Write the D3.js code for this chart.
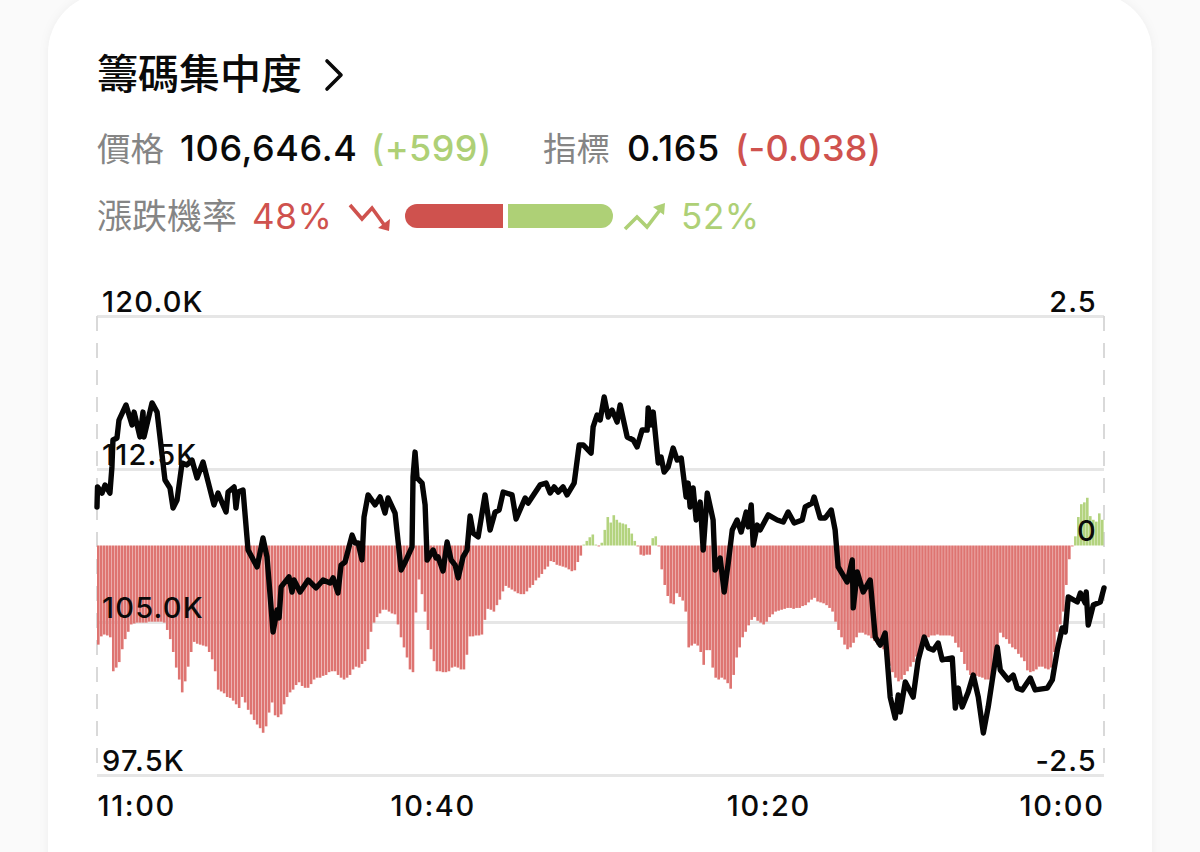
<!DOCTYPE html>
<html>
<head>
<meta charset="utf-8">
<style>
  html, body { margin: 0; padding: 0; background: #fafafa; }
  svg { display: block; }
  text { font-family: "Inter", "Noto Sans CJK TC", sans-serif; }
  .cjk { font-family: "Noto Sans CJK TC", sans-serif; }
</style>
<script src="https://cdn.jsdelivr.net/npm/d3@7"></script>
</head>
<body>
<svg width="1200" height="852"></svg>
<script>
// minutes counted from the left edge (11:00) toward 10:00, price in thousands
const pricePoints = [
  [0,110.64],[0.03,111.62],[0.30,111.32],[0.48,111.72],[0.77,111.32],[0.89,112.60],[0.95,113.92],[1.19,114.02],
  [1.31,114.90],[1.73,115.64],[2.09,114.66],[2.21,115.29],[2.56,114.07],[2.74,115.29],[2.80,114.07],[3.28,115.74],
  [3.58,115.29],[4.05,111.96],[4.35,111.57],[4.53,110.59],[4.77,110.98],[5.07,112.79],[5.36,112.70],[5.66,112.94],
  [5.96,112.06],[6.32,112.84],[6.97,110.74],[7.21,111.32],[7.69,110.39],[7.81,111.37],[8.17,111.62],[8.28,110.59],
  [8.40,111.37],[8.70,111.47],[9.00,108.53],[9.54,107.70],[9.89,109.12],[10.13,108.19],[10.49,104.51],[10.73,105.59],
  [10.85,105.20],[10.97,106.72],[11.44,107.21],[11.62,106.47],[11.74,107.06],[12.10,106.47],[12.58,107.06],[13.05,106.67],
  [13.47,107.06],[13.89,106.91],[14.07,107.16],[14.36,106.42],[14.54,107.79],[14.78,107.94],[15.20,109.26],[15.38,108.87],
  [15.56,108.87],[15.79,108.04],[15.91,110.15],[16.15,111.23],[16.57,110.74],[16.87,111.13],[17.16,110.34],[17.34,111.08],
  [17.76,110.34],[18.12,107.55],[18.36,107.94],[18.77,108.68],[18.83,112.11],[18.95,113.33],[19.07,112.06],[19.37,111.81],
  [19.55,110.74],[19.67,108.04],[20.03,108.53],[20.20,108.14],[20.32,108.19],[20.62,107.50],[20.86,108.92],[21.10,108.04],
  [21.34,107.79],[21.52,107.16],[21.81,108.19],[22.05,108.53],[22.23,110.20],[22.41,109.36],[22.71,109.17],[23.12,111.23],
  [23.42,109.51],[23.72,110.39],[23.96,110.49],[24.20,111.37],[24.73,111.23],[24.97,110.05],[25.51,111.08],[25.69,110.83],
  [26.40,111.72],[26.76,111.81],[27.00,111.32],[27.24,111.62],[27.48,111.37],[27.77,111.62],[28.01,111.23],[28.43,111.81],
  [28.55,112.55],[28.73,113.68],[28.97,113.68],[29.44,113.28],[29.56,114.56],[29.80,115.15],[29.98,114.90],[30.22,116.03],
  [30.46,115.05],[30.69,115.39],[30.99,114.80],[31.17,115.64],[31.59,114.07],[31.95,113.92],[32.18,113.58],[32.48,114.41],
  [32.78,114.41],[32.84,115.49],[33.02,114.66],[33.14,115.29],[33.44,112.79],[33.61,113.09],[33.79,112.35],[34.03,112.60],
  [34.33,113.53],[34.57,112.94],[34.81,113.04],[35.10,111.13],[35.22,111.81],[35.34,110.64],[35.52,111.57],[35.70,110.00],
  [35.94,110.88],[36.12,108.53],[36.36,111.32],[36.71,110.00],[36.83,107.55],[37.13,108.14],[37.37,106.47],[37.61,107.89],
  [37.85,109.51],[38.14,110.00],[38.38,109.41],[38.68,110.39],[38.80,109.66],[38.98,110.74],[39.10,108.77],[39.34,109.75],
  [39.51,109.51],[39.99,110.25],[40.53,110.00],[40.89,109.90],[41.18,110.39],[41.54,109.85],[42.02,110.00],[42.20,110.64],
  [42.61,110.83],[42.73,111.13],[43.09,110.10],[43.39,110.10],[43.75,110.49],[43.98,109.51],[44.16,107.70],[44.70,106.96],
  [45.00,108.04],[45.06,105.69],[45.30,107.45],[45.65,106.47],[46.07,107.06],[46.37,104.26],[46.67,103.87],[46.96,104.46],
  [47.26,101.32],[47.56,100.29],[47.74,101.42],[47.86,100.59],[48.16,102.06],[48.63,101.32],[48.93,103.14],[49.29,104.26],
  [49.53,103.73],[49.83,103.63],[50.12,103.97],[50.36,103.14],[50.96,103.24],[51.14,100.78],[51.32,101.76],[51.55,100.83],
  [51.91,101.57],[52.21,102.40],[52.51,101.32],[52.81,99.56],[53.10,100.83],[53.64,103.77],[53.82,102.65],[54.30,102.16],
  [54.59,102.40],[54.83,101.76],[55.13,101.67],[55.61,102.25],[55.90,101.67],[56.62,101.76],[56.92,102.16],[57.22,103.63],
  [57.51,104.71],[57.69,104.51],[57.87,106.23],[58.41,105.98],[58.59,106.42],[58.88,105.93],[58.94,106.47],[59.06,104.85],
  [59.36,105.83],[59.78,105.98],[60,106.67]
];

// indicator bars, one per sample, left to right
const indicator = [
  -1.08,-.99,-.97,-.98,-1.00,-1.37,-1.33,-1.27,-1.13,-1.02,
  -.94,-.86,-.85,-.84,-.84,-.84,-.84,-.83,-.83,-.83,
  -.83,-.83,-.84,-.92,-1.02,-1.16,-1.33,-1.46,-1.60,-1.48,
  -1.32,-1.16,-1.05,-1.07,-1.08,-1.09,-1.10,-1.16,-1.24,-1.37,
  -1.57,-1.59,-1.61,-1.65,-1.66,-1.69,-1.73,-1.77,-1.65,-1.71,
  -1.79,-1.84,-1.90,-1.95,-1.99,-2.04,-1.97,-1.82,-1.71,-1.85,
  -1.87,-1.84,-1.73,-1.65,-1.60,-1.57,-1.52,-1.49,-1.53,-1.55,
  -1.55,-1.51,-1.46,-1.44,-1.44,-1.42,-1.41,-1.38,-1.37,-1.37,
  -1.41,-1.44,-1.46,-1.44,-1.41,-1.35,-1.32,-1.33,-1.29,-1.26,
  -1.13,-.94,-.84,-.78,-.74,-.70,-.70,-.72,-.74,-.75,
  -.86,-1.00,-1.11,-1.22,-1.35,-1.38,-.73,-.37,-.53,-.72,
  -.92,-1.13,-1.26,-1.37,-1.37,-1.38,-1.38,-1.37,-1.33,-1.32,
  -1.33,-1.35,-1.35,-1.19,-.99,-.99,-.98,-.98,-.97,-.81,
  -.69,-.70,-.72,-.65,-.59,-.50,-.44,-.46,-.48,-.50,
  -.52,-.53,-.53,-.50,-.46,-.43,-.38,-.35,-.31,-.26,
  -.23,-.17,-.18,-.21,-.22,-.23,-.24,-.26,-.28,-.27,
  -.18,-.11,.01,.05,.09,.12,.01,-.01,.03,.17,
  .31,.25,.33,.28,.25,.24,.23,.19,.13,.05,
  -.01,-.10,-.11,-.10,-.10,.08,.10,-.01,-.26,-.43,
  -.55,-.63,-.64,-.52,-.56,-.60,-.72,-1.11,-1.09,-1.07,
  -1.09,-1.16,-1.30,-1.14,-1.14,-1.33,-1.44,-1.46,-1.44,-1.46,
  -1.50,-1.56,-1.41,-1.22,-1.11,-1.00,-.94,-.87,-.81,-.78,
  -.82,-.84,-.86,-.83,-.78,-.75,-.72,-.71,-.70,-.69,
  -.68,-.68,-.69,-.68,-.68,-.66,-.65,-.62,-.59,-.57,
  -.61,-.62,-.63,-.65,-.68,-.72,-.83,-.92,-1.00,-1.08,
  -1.13,-1.11,-1.06,-1.00,-.95,-.95,-.97,-.98,-1.01,-1.04,
  -1.08,-1.11,-1.13,-1.22,-1.31,-1.38,-1.44,-1.48,-1.46,-1.41,
  -1.37,-1.32,-1.27,-1.21,-1.16,-1.09,-1.02,-1.00,-.98,-.98,
  -.97,-.98,-.98,-.98,-.98,-.99,-1.06,-1.11,-1.16,-1.29,
  -1.36,-1.41,-1.43,-1.42,-1.43,-1.44,-1.46,-1.46,-1.48,-1.33,
  -1.11,-.95,-1.00,-1.02,-1.07,-1.11,-1.13,-1.18,-1.22,-1.26,
  -1.36,-1.38,-1.37,-1.35,-1.32,-1.32,-1.34,-1.35,-1.33,-1.16,
  -.94,-.86,-.72,-.43,-.15,-.01,.10,.31,.45,.47,
  .52,.32,.28,.26,.35,.28
];

const priceTicks = [120, 112.5, 105, 97.5];
const indicatorTicks = [2.5, 0, -2.5];
const timeTicks = [0, 20, 40, 60];
const timeLabels = ["11:00", "10:40", "10:20", "10:00"];

const red = "#cf524e";
const green = "#aed076";
const gray = "#858585";
const ink = "#0a0a0a";

const dims = { left: 97, right: 1104, top: 316, bottom: 775 };

const svg = d3.select("svg");

// card
svg.append("rect")
  .attr("x", 48).attr("y", -7)
  .attr("width", 1104).attr("height", 960)
  .attr("rx", 60)
  .attr("fill", "#fff")
  .style("filter", "drop-shadow(0 0 5px rgba(0,0,0,0.05))");

// header rows
function label(txt, x, y, size, color, opts) {
  const t = svg.append("text")
    .attr("x", x).attr("y", y)
    .attr("font-size", size)
    .attr("fill", color)
    .text(txt);
  if (opts && opts.cjk) t.attr("class", "cjk");
  if (opts && opts.weight) t.attr("font-weight", opts.weight);
  if (opts && opts.spacing) t.attr("letter-spacing", opts.spacing);
  return t;
}

label("籌碼集中度", 97, 89, 41, ink, { cjk: true, weight: 500 });
svg.append("path")
  .attr("d", d3.line()([[327, 61], [341, 75], [327, 89]]))
  .attr("fill", "none").attr("stroke", ink).attr("stroke-width", 3.6)
  .attr("stroke-linecap", "round").attr("stroke-linejoin", "round");

label("價格", 97, 161, 33.5, gray, { cjk: true });
label("106,646.4", 180, 161, 36, ink, { weight: 500, spacing: 0.6 });
label("(+599)", 371, 161, 36, green, { weight: 500, spacing: 0.4 });
label("指標", 543, 161, 33.5, gray, { cjk: true });
label("0.165", 627, 161, 36, ink, { weight: 500, spacing: 0.6 });
label("(-0.038)", 735, 161, 36, red, { weight: 500, spacing: 0.3 });

label("漲跌機率", 97, 229, 35, gray, { cjk: true });
label("48%", 252, 229, 35, red, { spacing: 0.6 });
label("52%", 681, 229, 35, green, { spacing: 0.6 });

// probability bar, rounded only on the outer ends
const probLeft = d3.path();
probLeft.moveTo(503, 204);
probLeft.lineTo(417, 204);
probLeft.arcTo(405, 204, 405, 216, 12);
probLeft.arcTo(405, 228, 417, 228, 12);
probLeft.lineTo(503, 228);
probLeft.closePath();
svg.append("path").attr("d", probLeft.toString()).attr("fill", red);

const probRight = d3.path();
probRight.moveTo(508, 204);
probRight.lineTo(601, 204);
probRight.arcTo(613, 204, 613, 216, 12);
probRight.arcTo(613, 228, 601, 228, 12);
probRight.lineTo(508, 228);
probRight.closePath();
svg.append("path").attr("d", probRight.toString()).attr("fill", green);

// trend icons
svg.append("path")
  .attr("d", d3.line()([[350, 205], [362, 219], [372, 208], [385, 226]]))
  .attr("fill", "none").attr("stroke", red).attr("stroke-width", 3.6);
svg.append("path")
  .attr("d", d3.line()([[390, 219], [389, 231], [378, 228]]) + "Z")
  .attr("fill", red);
svg.append("path")
  .attr("d", d3.line()([[625, 229], [637, 217], [647, 227], [660, 210]]))
  .attr("fill", "none").attr("stroke", green).attr("stroke-width", 3.6);
svg.append("path")
  .attr("d", d3.line()([[653, 207], [665, 203], [664, 215]]) + "Z")
  .attr("fill", green);

// scales
const x = d3.scaleLinear().domain([0, 60]).range([dims.left, dims.right]);
const yPrice = d3.scaleLinear().domain([97.5, 120]).range([dims.bottom, dims.top]);
const yIndicator = d3.scaleLinear().domain([-2.5, 2.5]).range([dims.bottom, dims.top]);

// grid from the left axis
const gridG = svg.append("g")
  .attr("transform", `translate(${dims.left},0)`)
  .call(d3.axisLeft(yPrice).tickValues(priceTicks).tickSize(-(dims.right - dims.left)).tickFormat(""));
gridG.select(".domain").remove();
gridG.selectAll("line").attr("stroke", "#e6e6e6").attr("stroke-width", 3);

// dashed side edges
svg.selectAll("line.edge")
  .data([0, 60])
  .join("line")
  .attr("class", "edge")
  .attr("x1", d => x(d)).attr("x2", d => x(d))
  .attr("y1", dims.top).attr("y2", dims.bottom)
  .attr("stroke", "#d9d9d9").attr("stroke-width", 2)
  .attr("stroke-dasharray", "15 12");

// indicator bars
const barStep = 60 / indicator.length;
svg.append("g").selectAll("rect")
  .data(indicator)
  .join("rect")
  .attr("x", (d, i) => x(i * barStep))
  .attr("width", 2.6)
  .attr("y", d => yIndicator(Math.max(d, 0)))
  .attr("height", d => Math.abs(yIndicator(d) - yIndicator(0)))
  .attr("fill", d => d < 0 ? "#de7471" : "#b3d37e");

// price line
svg.append("path")
  .attr("d", d3.line().x(d => x(d[0])).y(d => yPrice(d[1]))(pricePoints))
  .attr("fill", "none")
  .attr("stroke", "#050505")
  .attr("stroke-width", 5.4)
  .attr("stroke-linejoin", "round")
  .attr("stroke-linecap", "round");

// axis labels
const leftAxis = svg.append("g")
  .attr("transform", `translate(${dims.left + 5},0)`)
  .call(d3.axisRight(yPrice).tickValues(priceTicks).tickSize(0).tickPadding(0).tickFormat(d => d.toFixed(1) + "K"));
const rightAxis = svg.append("g")
  .attr("transform", `translate(${dims.right - 7},0)`)
  .call(d3.axisLeft(yIndicator).tickValues(indicatorTicks).tickSize(0).tickPadding(0).tickFormat(d => d === 0 ? "0" : String(d)));
[leftAxis, rightAxis].forEach(g => {
  g.select(".domain").remove();
  g.selectAll("text")
    .attr("font-size", 29).attr("fill", ink)
    .attr("font-family", "Inter")
    .attr("font-weight", 500)
    .attr("letter-spacing", 1.2)
    .attr("dy", -5);
});

const bottomAxis = svg.append("g")
  .attr("transform", `translate(0,${dims.bottom})`)
  .call(d3.axisBottom(x).tickValues(timeTicks).tickSize(0).tickFormat((d, i) => timeLabels[i]));
bottomAxis.select(".domain").remove();
bottomAxis.selectAll("text")
  .attr("font-size", 29).attr("fill", ink)
  .attr("font-family", "Inter")
  .attr("font-weight", 500)
  .attr("letter-spacing", 1.6)
  .attr("y", 41).attr("dy", 0)
  .attr("text-anchor", (d, i) => i === 0 ? "start" : i === 3 ? "end" : "middle");
</script>
</body>
</html>
